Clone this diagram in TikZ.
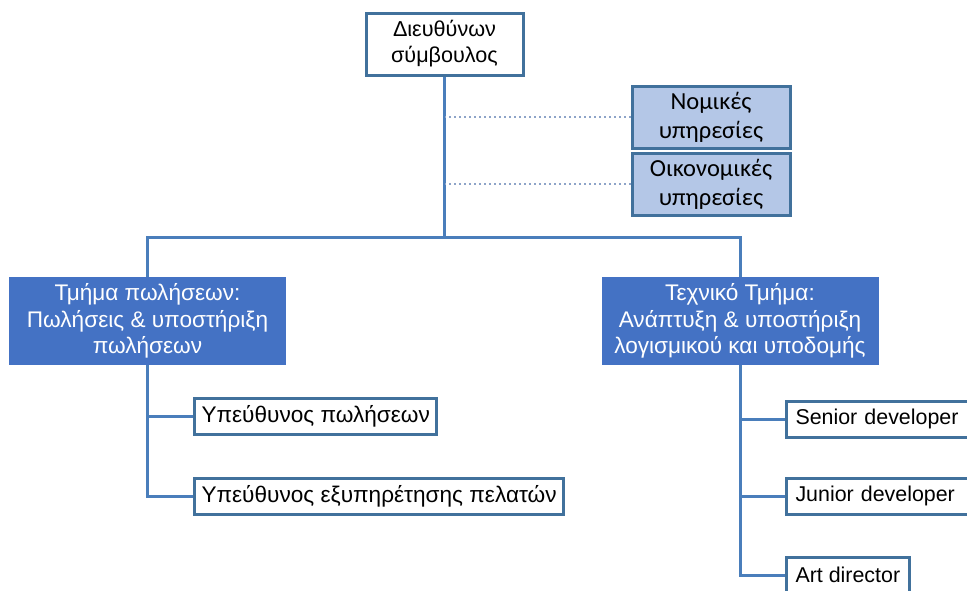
\documentclass[tikz,border=0pt]{standalone}
\usepackage{fontspec}
\setmainfont{Liberation Sans}
\newfontfamily\calibri{Carlito}
\usepackage{xcolor}
\usepackage{tikz}
\usetikzlibrary{arrows}
\usetikzlibrary{positioning}
\definecolor{boxline}{HTML}{41719C}
\definecolor{conline}{HTML}{4A7EBB}
\definecolor{darkfill}{HTML}{4472C4}
\definecolor{lightfill}{HTML}{B4C7E7}
\definecolor{dotline}{HTML}{8EA4C8}
\tikzset{
    whitebox/.style={draw=boxline, fill=white, line width=3pt, align=center,
        minimum width=157pt, minimum height=62pt, inner sep=0pt, font=\fontsize{21.6}{26}\selectfont},
    staffbox/.style={draw=boxline, fill=lightfill, line width=3pt, align=center,
        minimum width=158pt, minimum height=62pt, inner sep=0pt, font=\calibri\fontsize{24.5}{29}\selectfont},
    deptbox/.style={fill=darkfill, text=white, align=center,
        minimum width=277pt, minimum height=88pt, inner sep=0pt},
    leafbox/.style={draw=boxline, fill=white, line width=3pt, anchor=west,
        minimum height=36pt, inner xsep=7pt, inner ysep=0pt},
    latinbox/.style={leafbox, inner xsep=9pt, font=\fontsize{21.4}{25}\selectfont},
    wire/.style={draw=conline, line width=3pt},
    dotwire/.style={draw=dotline, line width=2.4pt, dash pattern=on 2pt off 3pt},
}
\tikzstyle{line} = [draw, -latex']

\begin{document}
\begin{tikzpicture}[x=1pt, y=-1pt, font=\fontsize{22.6}{26.5}\selectfont]
	\useasboundingbox (0,0) rectangle (967,590);
	\clip (0,0) rectangle (967,590);
	\node[whitebox] (ceo) at (444.5,44) {Διευθύνων\\σύμβουλος};
	\node[staffbox] (legal) at (711,117) {Νομικές\\υπηρεσίες};
	\node[staffbox] (finance) at (711,184) {Οικονομικές\\υπηρεσίες};
	\node[deptbox] (sales) at (147.5,321) {Τμήμα πωλήσεων:\\Πωλήσεις \& υποστήριξη\\πωλήσεων};
	\node[deptbox] (tech) at (740,321) {Τεχνικό Τμήμα:\\Ανάπτυξη \& υποστήριξη\\λογισμικού και υποδομής};
	\coordinate (bus) at (444.5,237);
	\node[leafbox] (salesmgr) at (193,416) {Υπεύθυνος πωλήσεων};
	\node[leafbox] (custmgr) at (193,496) {Υπεύθυνος εξυπηρέτησης πελατών};
	\node[latinbox, text width=200pt, align=left] (senior) at (785,419) {Senior developer};
	\node[latinbox, text width=200pt, align=left] (junior) at (785,496) {Junior developer};
	\node[latinbox] (art) at (785,575) {Art director};
	% reporting lines
	\draw[wire] (ceo.south) -- (bus);
	\draw[wire] (sales.north) |- (bus) -| (tech.north);
	\draw[dotwire] (legal.west) -- (legal.west -| ceo.south);
	\draw[dotwire] (finance.west) -- (finance.west -| ceo.south);
	\draw[wire] (sales.south) |- (salesmgr.west);
	\draw[wire] (sales.south) |- (custmgr.west);
	\draw[wire] (tech.south) |- (senior.west);
	\draw[wire] (tech.south) |- (junior.west);
	\draw[wire] (tech.south) |- (art.west);
\end{tikzpicture}
\end{document}
